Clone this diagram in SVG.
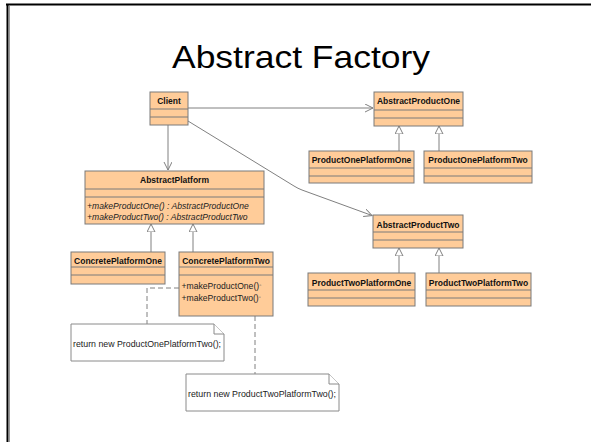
<svg xmlns="http://www.w3.org/2000/svg" width="591" height="442" viewBox="0 0 591 442">
<style>
.box{fill:#FFCC99;stroke:#7a7a7a;stroke-width:1}
.sep{stroke:#7a7a7a;stroke-width:1}
.nm{font-family:"Liberation Sans",Arial,sans-serif;font-weight:bold;font-size:8.5px;fill:#111;text-anchor:middle}
.op{font-family:"Liberation Sans",Arial,sans-serif;font-size:8.6px;fill:#222}
.it{font-style:italic}
.note{fill:#fff;stroke:#8a8a8a;stroke-width:1}
.nt{font-family:"Liberation Sans",Arial,sans-serif;font-size:8.6px;fill:#222}
.conn{fill:none;stroke:#808080;stroke-width:1}
.dash{fill:none;stroke:#808080;stroke-width:1;stroke-dasharray:5,3}
</style>
<defs>
<marker id="open" markerWidth="10" markerHeight="10" refX="8" refY="4" orient="auto" markerUnits="userSpaceOnUse">
<path d="M0,0 L8,4 L0,8" fill="none" stroke="#808080" stroke-width="1"/>
</marker>
<marker id="gen" markerWidth="10" markerHeight="10" refX="8" refY="4" orient="auto" markerUnits="userSpaceOnUse">
<path d="M0,0 L8,4 L0,8 Z" fill="#fff" stroke="#808080" stroke-width="1"/>
</marker>
</defs>
<rect width="591" height="442" fill="#fff"/>
<path d="M6,4.5 H591" stroke="#000" stroke-width="2"/>
<path d="M7.5,4 V442" stroke="#000" stroke-width="2"/>
<path d="M9.5,6 V442" stroke="#999" stroke-width="1"/>
<text x="172" y="67.5" font-family="Liberation Sans,Arial,sans-serif" font-size="32" textLength="258" lengthAdjust="spacingAndGlyphs" fill="#000">Abstract Factory</text>

<g id="connectors">
<path class="conn" d="M188,108 H373" marker-end="url(#open)"/>
<path class="conn" d="M168,125 V170" marker-end="url(#open)"/>
<path class="conn" d="M188,121 L294,186 Q298,188.5 302,190 L372,215.5" marker-end="url(#open)"/>
<path class="conn" d="M399,151 V126" marker-end="url(#gen)"/>
<path class="conn" d="M439,151 V126" marker-end="url(#gen)"/>
<path class="conn" d="M399,273 V248" marker-end="url(#gen)"/>
<path class="conn" d="M439,273 V248" marker-end="url(#gen)"/>
<path class="conn" d="M151,252 V224" marker-end="url(#gen)"/>
<path class="conn" d="M193,252 V224" marker-end="url(#gen)"/>
<path class="dash" d="M179,288 H147 V324"/>
<path class="dash" d="M255,316 V374"/>
</g>

<g id="Client">
<rect class="box" x="150" y="92" width="38" height="33"/>
<path class="sep" d="M150,109 H188 M150,117 H188"/>
<text class="nm" x="169" y="104">Client</text>
</g>
<g id="AbstractProductOne">
<rect class="box" x="374" y="92" width="89" height="34"/>
<path class="sep" d="M374,110 H463 M374,118 H463"/>
<text class="nm" x="418.5" y="104">AbstractProductOne</text>
</g>
<g id="ProductOnePlatformOne">
<rect class="box" x="309" y="151" width="105" height="32"/>
<path class="sep" d="M309,168 H414 M309,176 H414"/>
<text class="nm" x="361.5" y="163">ProductOnePlatformOne</text>
</g>
<g id="ProductOnePlatformTwo">
<rect class="box" x="424" y="151" width="108" height="32"/>
<path class="sep" d="M424,168 H532 M424,176 H532"/>
<text class="nm" x="478" y="163">ProductOnePlatformTwo</text>
</g>
<g id="AbstractPlatform">
<rect class="box" x="85" y="171" width="179" height="53"/>
<path class="sep" d="M85,189 H264 M85,197 H264"/>
<text class="nm" x="174.5" y="183">AbstractPlatform</text>
<text class="op it" x="87" y="209">+makeProductOne() : AbstractProductOne</text>
<text class="op it" x="87" y="219.5">+makeProductTwo() : AbstractProductTwo</text>
</g>
<g id="ConcretePlatformOne">
<rect class="box" x="71" y="252" width="94" height="32"/>
<path class="sep" d="M71,267 H165 M71,275 H165"/>
<text class="nm" x="118" y="264">ConcretePlatformOne</text>
</g>
<g id="ConcretePlatformTwo">
<rect class="box" x="179" y="252" width="94" height="64"/>
<path class="sep" d="M179,267 H273 M179,275 H273"/>
<text class="nm" x="226" y="264">ConcretePlatformTwo</text>
<text class="op" x="181.5" y="288.5">+makeProductOne()<tspan font-size="6" dy="-2">◦</tspan></text>
<text class="op" x="181.5" y="300.5">+makeProductTwo()<tspan font-size="6" dy="-2">◦</tspan></text>
</g>
<g id="AbstractProductTwo">
<rect class="box" x="373" y="215" width="90" height="33"/>
<path class="sep" d="M373,232 H463 M373,240 H463"/>
<text class="nm" x="418" y="227.5">AbstractProductTwo</text>
</g>
<g id="ProductTwoPlatformOne">
<rect class="box" x="308" y="273" width="107" height="33"/>
<path class="sep" d="M308,290 H415 M308,298 H415"/>
<text class="nm" x="361.5" y="285.5">ProductTwoPlatformOne</text>
</g>
<g id="ProductTwoPlatformTwo">
<rect class="box" x="426" y="273" width="105" height="33"/>
<path class="sep" d="M426,290 H531 M426,298 H531"/>
<text class="nm" x="478.5" y="285.5">ProductTwoPlatformTwo</text>
</g>
<g id="Note1">
<path class="note" d="M71,324 H214 L224,334 V361 H71 Z"/>
<path class="note" d="M214,324 V334 H224" fill="none"/>
<text class="nt" x="73" y="347" textLength="148" lengthAdjust="spacingAndGlyphs">return new ProductOnePlatformTwo();</text>
</g>
<g id="Note2">
<path class="note" d="M186,374 H329 L339,384 V411 H186 Z"/>
<path class="note" d="M329,374 V384 H339" fill="none"/>
<text class="nt" x="188" y="397" textLength="148" lengthAdjust="spacingAndGlyphs">return new ProductTwoPlatformTwo();</text>
</g>
</svg>
